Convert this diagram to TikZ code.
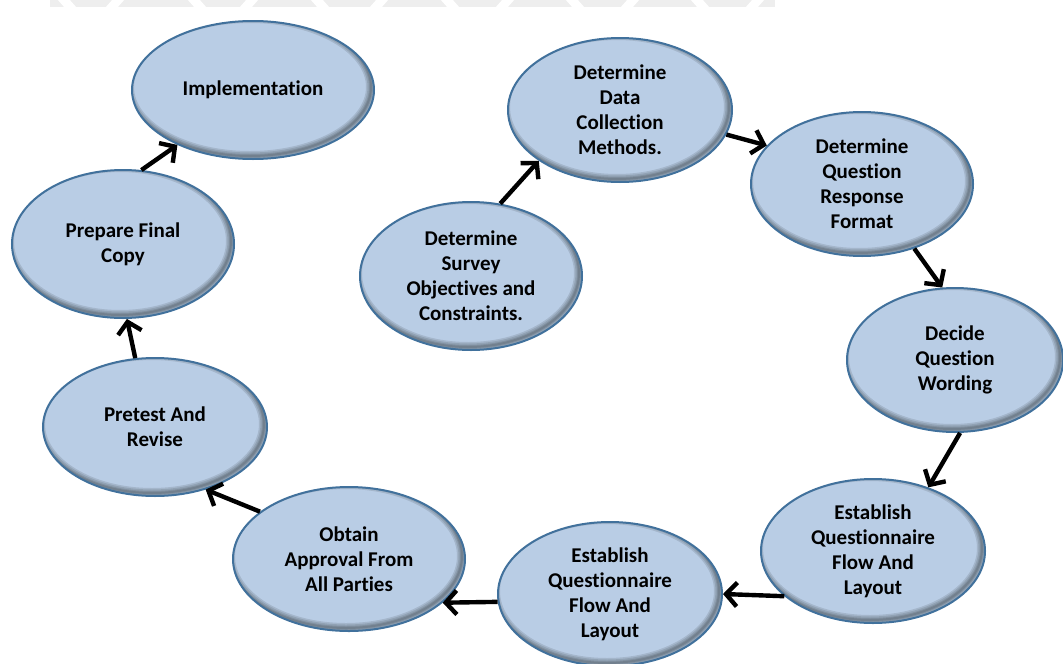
\documentclass[tikz,border=0pt]{standalone}
\usepackage{fontspec}
\setmainfont[Ligatures=NoCommon]{Carlito}
\usetikzlibrary{shapes.geometric,arrows.meta}
\definecolor{bubfill}{HTML}{B9CDE5}
\definecolor{bubline}{HTML}{41719C}
\definecolor{wm}{HTML}{EEEEEE}

\tikzset{
  bubble/.style={ellipse, draw=bubline, line width=2pt, inner sep=0pt,
    align=center, font=\bfseries\fontsize{21}{25}\selectfont, text=black},
  flow/.style={line width=4.4pt,
    -{Straight Barb[length=11pt,width=24pt,line width=4.4pt]}},
  stripe/.style={fill=wm, draw=none},
}

% bubble: name, x, y, x radius, y radius, text
\newcommand\bub[6]{%
  \begin{scope}
    \clip (#2,#3) ellipse [x radius=#4, y radius=#5];
    \fill[bubfill] (#2,#3) ellipse [x radius=#4, y radius=#5];
    \foreach \w in {10,7,4,2}
      \draw[line width=\w pt, black, opacity=0.11]
        (#2-3,#3-3) ellipse [x radius=#4, y radius=#5];
  \end{scope}
  \node[bubble, minimum width=2*#4pt, minimum height=2*#5pt] (#1) at (#2,#3) {#6};
}

\begin{document}
\begin{tikzpicture}[x=1pt, y=-1pt]
  \useasboundingbox (0,0) rectangle (1063,664);
  \fill[white] (0,0) rectangle (1063,664);

  % faint zigzag band along the top edge
  \fill[stripe] (50,0) rectangle (775,7);
  \foreach \g [count=\i] in {57,113,187,247,310,377,440,503,565,628,690,753}{
    \pgfmathsetmacro\s{ifthenelse(mod(\i,2)==1,8,-8)}
    \fill[white] (\g,-1) -- (\g+12,-1) -- (\g+12+\s,8) -- (\g+\s,8) -- cycle;
  }

  \bub{impl}{253}{90}{121}{69}{Implementation}
  \bub{prep}{123}{244}{111}{74}{Prepare Final\\Copy}
  \bub{pret}{155}{427}{112}{69}{Pretest And\\Revise}
  \bub{obt}{349}{559}{116}{72}{Obtain\\Approval From\\All Parties}
  \bub{estB}{610}{594}{112}{72}{Establish\\Questionnaire\\Flow And\\Layout}
  \bub{estR}{873}{551}{112}{72}{Establish\\Questionnaire\\Flow And\\Layout}
  \bub{dec}{955}{360}{108}{72}{Decide\\Question\\Wording}
  \bub{resp}{862}{184}{111}{72}{Determine\\Question\\Response\\Format}
  \bub{data}{620}{110}{112}{72}{Determine\\Data\\Collection\\Methods.}
  \bub{surv}{471}{276}{111}{74}{Determine\\Survey\\Objectives and\\Constraints.}

  \draw[flow] (surv.68.6)  -- (data.212.1);
  \draw[flow] (data.-13.2) -- (resp.158.0);
  \draw[flow] (resp.-51.5) -- (dec.100.2);
  \draw[flow] (dec.-86.9)  -- (estR.49.3);
  \draw[flow] (estR.207.1) -- (estB.-0.5);
  \draw[flow] (estB.184.4) -- (obt.-25.5);
  \draw[flow] (obt.152.0)  -- (pret.-51.7);
  \draw[flow] (pret.106.0) -- (prep.-87.2);
  \draw[flow] (prep.76.7)  -- (impl.216.7);
\end{tikzpicture}
\end{document}
